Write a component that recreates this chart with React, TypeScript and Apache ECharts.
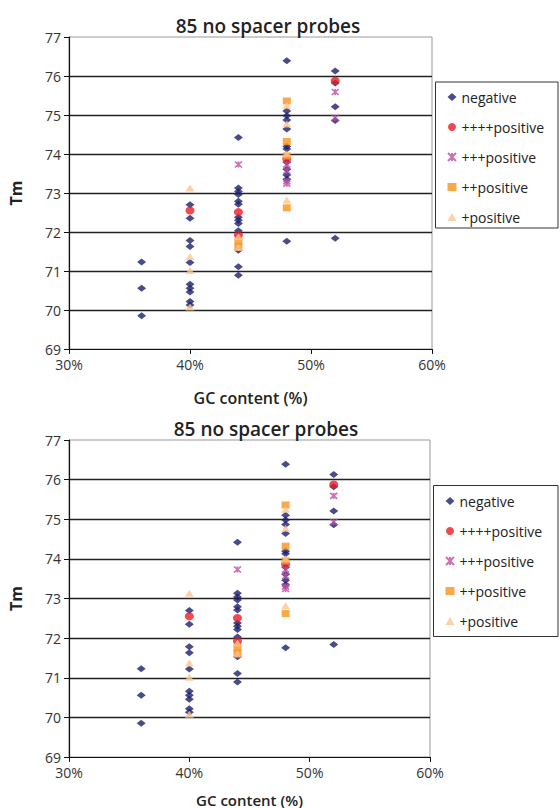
import React, { useEffect, useRef } from "react";
import * as echarts from "echarts";

const TITLE = "85 no spacer probes";
const X_NAME = "GC content (%)";
const Y_NAME = "Tm";
const X_MIN = 30;
const X_MAX = 60;
const X_STEP = 10;
const Y_MIN = 69;
const Y_MAX = 77;
const Y_STEP = 1;
const SERIES_NAMES = ["negative", "++++positive", "+++positive", "++positive", "+positive"];

const negative: [number, number][] = [
  [36, 71.23], [36, 70.56], [36, 69.85],
  [40, 72.7], [40, 72.35], [40, 71.78], [40, 71.63], [40, 71.22], [40, 70.66], [40, 70.56], [40, 70.46], [40, 70.22], [40, 70.13],
  [44, 74.42], [44, 73.13], [44, 73.04], [44, 72.96], [44, 72.79], [44, 72.71], [44, 72.38], [44, 72.3], [44, 72.22], [44, 72.03], [44, 71.53], [44, 71.11], [44, 70.89],
  [48, 76.39], [48, 75.1], [48, 74.98], [48, 74.87], [48, 74.64], [48, 74.19], [48, 74.13], [48, 73.79], [48, 73.61], [48, 73.46], [48, 73.35], [48, 71.76],
  [52, 76.13], [52, 75.82], [52, 75.21], [52, 74.86], [52, 71.84],
];
const pos4: [number, number][] = [
  [40, 72.55], [44, 72.51], [44, 71.92], [48, 73.87], [52, 75.88],
];
const pos3: [number, number][] = [
  [44, 73.73], [48, 73.73], [48, 73.57], [48, 73.3], [48, 73.24], [52, 75.59], [52, 74.93],
];
const pos2: [number, number][] = [
  [44, 71.76], [44, 71.62], [48, 75.36], [48, 74.32], [48, 73.95], [48, 72.62],
];
const pos1: [number, number][] = [
  [40, 73.13], [40, 71.37], [40, 71.01], [40, 70.08], [44, 71.88], [44, 71.6], [48, 75.25], [48, 74.77], [48, 74.0], [48, 72.82],
];

const SERIES_DATA = [negative, pos4, pos3, pos2, pos1];
const SYMBOLS = ["diamond", "circle", "path://M0,0L10,10M10,0L0,10M5,0L5,10", "rect", "triangle"];
const SYMBOL_SIZES: [number, number][] = [[9, 7], [9, 8], [7, 6], [8, 7], [9, 7]];
const COLORS = ["#1c1f6c", "#ec1c24", "#c04ca0", "#f7941d", "#fbc690"];

const FONT = "'Open Sans', 'DejaVu Sans', sans-serif";

export default function App() {
  const ref = useRef<HTMLDivElement>(null);
  useEffect(() => {
    document.body.style.margin = "0";
    if (!ref.current) return;
    const chart = echarts.init(ref.current, undefined, { renderer: "svg" });

    const grids = [
      { left: 63, top: 37, width: 369, height: 312 },
      { left: 61, top: 440, width: 369, height: 318 },
    ];
    const nameGaps = [41, 35];
    const nameSizes = [16, 15];
    const titles = [
      { left: 263, top: 11 },
      { left: 261, top: 414 },
    ];
    const legends = [
      { left: 447, top: 90, box: [435.5, 82, 122.5, 146] },
      { left: 445, top: 494, box: [433.5, 485.5, 124.5, 151] },
    ];

    const xAxes = grids.map((_, i) => ({
      type: "value",
      gridIndex: i,
      min: X_MIN,
      max: X_MAX,
      interval: X_STEP,
      name: X_NAME,
      nameLocation: "middle",
      nameGap: nameGaps[i],
      nameTextStyle: { fontFamily: FONT, fontSize: nameSizes[i], fontWeight: 600, color: "#222" },
      axisLine: { show: true, lineStyle: { color: "#111", width: 1.2 } },
      axisTick: { show: true, inside: false, length: 5, lineStyle: { color: "#111" } },
      axisLabel: { formatter: "{value}%", fontFamily: FONT, fontSize: 14, color: "#333", margin: 8 },
      splitLine: { show: false },
    }));
    const yAxes = grids.map((_, i) => ({
      type: "value",
      gridIndex: i,
      min: Y_MIN,
      max: Y_MAX,
      interval: Y_STEP,
      name: Y_NAME,
      nameLocation: "middle",
      nameGap: 45,
      nameRotate: 90,
      nameTextStyle: { fontFamily: FONT, fontSize: 16, fontWeight: 700, color: "#222" },
      axisLine: { show: true, lineStyle: { color: "#111", width: 1.2 } },
      axisTick: { show: true, inside: false, length: 5, lineStyle: { color: "#111" } },
      axisLabel: { fontFamily: FONT, fontSize: 14, color: "#333", margin: 8 },
      splitLine: { show: true, showMinLine: false, showMaxLine: false, lineStyle: { color: "#222", width: 1.3 } },
    }));

    const series: any[] = [];
    grids.forEach((_, gi) => {
      SERIES_NAMES.forEach((name, si) => {
        const isStar = si === 2;
        series.push({
          type: "scatter",
          name,
          xAxisIndex: gi,
          yAxisIndex: gi,
          data: SERIES_DATA[si],
          symbol: SYMBOLS[si],
          symbolSize: SYMBOL_SIZES[si],
          z: 2 + si,
          itemStyle: isStar
            ? { color: "rgba(0,0,0,0)", borderColor: COLORS[si], borderWidth: 1.6 }
            : { color: COLORS[si] },
        });
      });
    });

    chart.setOption({
      animation: false,
      backgroundColor: "#fff",
      title: titles.map((t) => ({
        text: TITLE,
        left: t.left,
        top: t.top,
        textAlign: "center",
        textStyle: { fontFamily: FONT, fontSize: 19, fontWeight: 600, color: "#222" },
      })),
      grid: grids.map((g) => ({ ...g, show: true, borderColor: "#999", borderWidth: 1, backgroundColor: "transparent" })),
      xAxis: xAxes,
      yAxis: yAxes,
      legend: legends.map((l) => ({
        orient: "vertical",
        left: l.left,
        top: l.top,
        data: SERIES_NAMES,
        itemWidth: 9,
        itemHeight: 8,
        itemGap: 16,
        padding: 0,
        selectedMode: false,
        textStyle: { fontFamily: FONT, fontSize: 14, color: "#222" },
      })),
      graphic: legends.map((l) => ({
        type: "rect",
        z: -1,
        shape: { x: l.box[0], y: l.box[1], width: l.box[2], height: l.box[3] },
        style: { fill: "#fff", stroke: "#333", lineWidth: 1 },
      })),
      series,
    });
    return () => chart.dispose();
  }, []);
  return <div ref={ref} style={{ width: 560, height: 808 }} />;
}
